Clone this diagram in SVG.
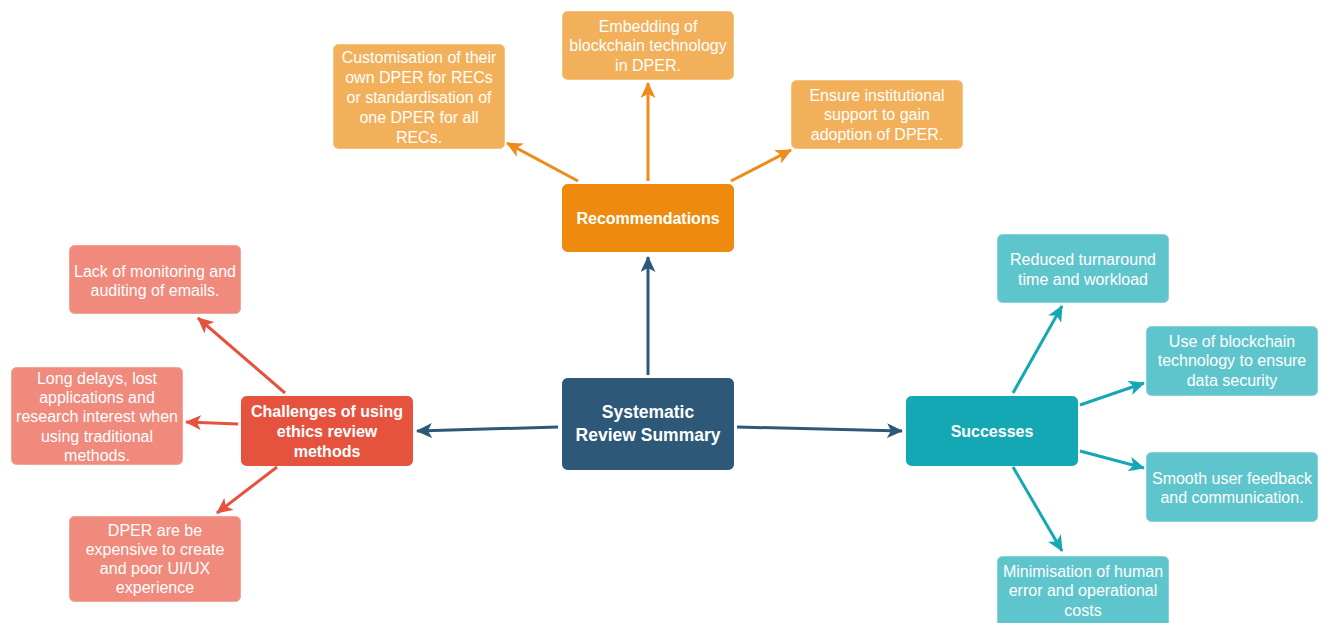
<svg xmlns="http://www.w3.org/2000/svg" width="1327" height="623" viewBox="0 0 1327 623">
<style>
text{font-family:"Liberation Sans",Arial,sans-serif;fill:#fff;text-anchor:middle;dominant-baseline:central}
.t{font-size:16px}
.b{font-size:16px;font-weight:bold}
.c{font-size:17.5px;font-weight:bold}
rect{stroke-width:1}
.main{fill:#2d5878;stroke:#2d5878}
.ro{fill:#ee8b0f;stroke:#ee8b0f}
.lo{fill:#f3b05b;stroke:#f6c27f}
.rr{fill:#e5533f;stroke:#e5533f}
.lr{fill:#f08a7d;stroke:#f3a39a}
.rt{fill:#14a8b5;stroke:#14a8b5}
.lt{fill:#5fc5cc;stroke:#85d3d8}
line{stroke-width:3;fill:none}
.kb{stroke:#2d5878}.ko{stroke:#ee8b1b}.kr{stroke:#e5533f}.kt{stroke:#14a8b5}
</style>
<defs>
<marker id="mb" markerUnits="userSpaceOnUse" markerWidth="17" markerHeight="15" refX="15" refY="7.5" orient="auto"><path d="M0,0 L16,7.5 L0,15 L4,7.5 z" fill="#2d5878"/></marker>
<marker id="mo" markerUnits="userSpaceOnUse" markerWidth="17" markerHeight="15" refX="15" refY="7.5" orient="auto"><path d="M0,0 L16,7.5 L0,15 L4,7.5 z" fill="#ee8b1b"/></marker>
<marker id="mr" markerUnits="userSpaceOnUse" markerWidth="17" markerHeight="15" refX="15" refY="7.5" orient="auto"><path d="M0,0 L16,7.5 L0,15 L4,7.5 z" fill="#e5533f"/></marker>
<marker id="mt" markerUnits="userSpaceOnUse" markerWidth="17" markerHeight="15" refX="15" refY="7.5" orient="auto"><path d="M0,0 L16,7.5 L0,15 L4,7.5 z" fill="#14a8b5"/></marker>
</defs>
<g id="connectors">
<line class="kb" x1="648" y1="375" x2="648" y2="257" marker-end="url(#mb)"/>
<line class="kb" x1="558" y1="427" x2="417" y2="431" marker-end="url(#mb)"/>
<line class="kb" x1="737" y1="427" x2="902" y2="431" marker-end="url(#mb)"/>
<line class="ko" x1="578" y1="181" x2="507" y2="143" marker-end="url(#mo)"/>
<line class="ko" x1="648" y1="181" x2="648" y2="83" marker-end="url(#mo)"/>
<line class="ko" x1="731" y1="181" x2="791" y2="150" marker-end="url(#mo)"/>
<line class="kr" x1="285" y1="393" x2="198" y2="318" marker-end="url(#mr)"/>
<line class="kr" x1="238" y1="424" x2="186" y2="422" marker-end="url(#mr)"/>
<line class="kr" x1="277" y1="467" x2="217" y2="513" marker-end="url(#mr)"/>
<line class="kt" x1="1013" y1="393" x2="1062" y2="306" marker-end="url(#mt)"/>
<line class="kt" x1="1080" y1="405" x2="1144" y2="383" marker-end="url(#mt)"/>
<line class="kt" x1="1080" y1="451" x2="1144" y2="468" marker-end="url(#mt)"/>
<line class="kt" x1="1013" y1="467" x2="1062" y2="551" marker-end="url(#mt)"/>
</g>
<g id="central"><rect class="main" x="562.5" y="378.5" width="171" height="91" rx="5"/><text class="c" x="648" y="412">Systematic</text><text class="c" x="648" y="435">Review Summary</text></g>
<g id="recommendations"><rect class="ro" x="562.5" y="184.5" width="171" height="67" rx="5"/><text class="b" x="648" y="218">Recommendations</text></g>
<g id="customisation"><rect class="lo" x="333.5" y="44.5" width="171" height="104" rx="5"/><text class="t" x="419" y="57">Customisation of their</text><text class="t" x="419" y="77">own DPER for RECs</text><text class="t" x="419" y="97">or standardisation of</text><text class="t" x="419" y="117">one DPER for all</text><text class="t" x="419" y="137">RECs.</text></g>
<g id="embedding"><rect class="lo" x="562.5" y="11.5" width="171" height="68" rx="5"/><text class="t" x="648" y="26">Embedding of</text><text class="t" x="648" y="45">blockchain technology</text><text class="t" x="648" y="65">in DPER.</text></g>
<g id="ensure"><rect class="lo" x="791.5" y="80.5" width="171" height="68" rx="5"/><text class="t" x="877" y="95">Ensure institutional</text><text class="t" x="877" y="114">support to gain</text><text class="t" x="877" y="134">adoption of DPER.</text></g>
<g id="challenges"><rect class="rr" x="241.5" y="396.5" width="171" height="69" rx="5"/><text class="b" x="327" y="411">Challenges of using</text><text class="b" x="327" y="431">ethics review</text><text class="b" x="327" y="451">methods</text></g>
<g id="lack"><rect class="lr" x="69.5" y="245.5" width="171" height="68" rx="5"/><text class="t" x="155" y="271">Lack of monitoring and</text><text class="t" x="155" y="290">auditing of emails.</text></g>
<g id="delays"><rect class="lr" x="11.5" y="367.5" width="171" height="97" rx="5"/><text class="t" x="97" y="378">Long delays, lost</text><text class="t" x="97" y="397">applications and</text><text class="t" x="97" y="416">research interest when</text><text class="t" x="97" y="436">using traditional</text><text class="t" x="97" y="455">methods.</text></g>
<g id="dper"><rect class="lr" x="69.5" y="516.5" width="171" height="85" rx="5"/><text class="t" x="155" y="530">DPER are be</text><text class="t" x="155" y="549">expensive to create</text><text class="t" x="155" y="568">and poor UI/UX</text><text class="t" x="155" y="587">experience</text></g>
<g id="successes"><rect class="rt" x="906.5" y="396.5" width="171" height="69" rx="5"/><text class="b" x="992" y="431">Successes</text></g>
<g id="reduced"><rect class="lt" x="997.5" y="234.5" width="171" height="68" rx="5"/><text class="t" x="1083" y="259">Reduced turnaround</text><text class="t" x="1083" y="279">time and workload</text></g>
<g id="blockchain"><rect class="lt" x="1146.5" y="326.5" width="171" height="69" rx="5"/><text class="t" x="1232" y="341">Use of blockchain</text><text class="t" x="1232" y="360">technology to ensure</text><text class="t" x="1232" y="380">data security</text></g>
<g id="smooth"><rect class="lt" x="1146.5" y="452.5" width="171" height="69" rx="5"/><text class="t" x="1232" y="478">Smooth user feedback</text><text class="t" x="1232" y="497">and communication.</text></g>
<g id="minimisation"><rect class="lt" x="997.5" y="556.5" width="171" height="70" rx="5"/><text class="t" x="1083" y="571">Minimisation of human</text><text class="t" x="1083" y="590">error and operational</text><text class="t" x="1083" y="610">costs</text></g>
</svg>
